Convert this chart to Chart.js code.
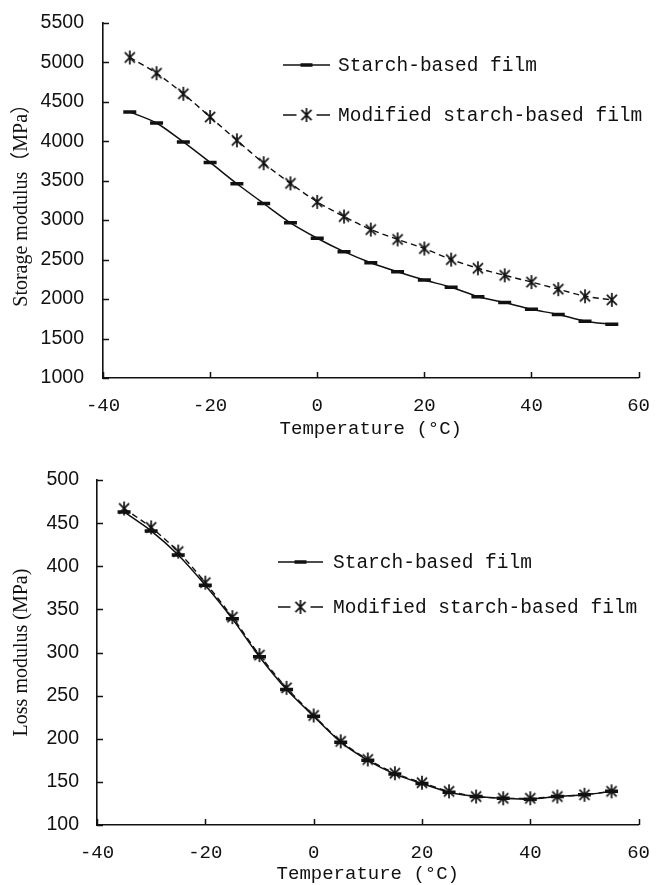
<!DOCTYPE html>
<html>
<head>
<meta charset="utf-8">
<script src="https://cdn.jsdelivr.net/npm/chart.js@4.4.0/dist/chart.umd.min.js"></script>
<style>
    html, body { margin: 0; padding: 0; background: #fff; }
    canvas { display: block; }
</style>
</head>
<body>
<canvas id="storage-chart" width="659" height="442"></canvas>
<canvas id="loss-chart" width="659" height="443"></canvas>
<script>
// Data (temperature sweep, 5 °C steps)
const temperatures = [-35, -30, -25, -20, -15, -10, -5, 0, 5, 10, 15, 20, 25, 30, 35, 40, 45, 50, 55];

const storageStarch   = [4370, 4230, 3990, 3730, 3460, 3210, 2965, 2770, 2600, 2460, 2345, 2240, 2150, 2030, 1955, 1870, 1805, 1720, 1680];
const storageModified = [5060, 4860, 4600, 4305, 4010, 3720, 3465, 3230, 3045, 2880, 2755, 2640, 2500, 2390, 2300, 2215, 2125, 2035, 1990];

const lossStarch   = [463, 441, 413, 378, 339, 295, 257, 226, 196, 175, 159, 148, 138, 133, 131, 130, 133, 135, 139];
const lossModified = [467, 445, 417, 381, 341, 297, 259, 227, 197, 176, 160, 149, 139, 133, 131, 131, 133, 135, 139];

const tempTicks    = [-40, -20, 0, 20, 40, 60];
const storageTicks = [1000, 1500, 2000, 2500, 3000, 3500, 4000, 4500, 5000, 5500];
const lossTicks    = [100, 150, 200, 250, 300, 350, 400, 450, 500];

const seriesNames = ['Starch-based film', 'Modified starch-based film'];

const INK = '#111';
const MONO = "'Liberation Mono', 'DejaVu Sans Mono', monospace";

// Asterisk marker (vertical stroke + two diagonals)
function makeAsterisk(size) {
    const c = document.createElement('canvas');
    c.width = size;
    c.height = size;
    const g = c.getContext('2d');
    const m = size / 2;
    const r = size / 2 - 1;
    const d = r * 0.72;
    g.strokeStyle = INK;
    g.lineWidth = 1.7;
    g.beginPath();
    g.moveTo(m, m - r); g.lineTo(m, m + r);
    g.moveTo(m - d, m - d); g.lineTo(m + d, m + d);
    g.moveTo(m + d, m - d); g.lineTo(m - d, m + d);
    g.stroke();
    return c;
}
const asterisk = makeAsterisk(16);

const toPoints = values => temperatures.map((t, i) => ({ x: t, y: values[i] }));

// Ticks drawn inward, like the original figure
const inwardTicks = {
    id: 'inwardTicks',
    afterDraw(chart) {
        const { ctx, scales: { x, y } } = chart;
        ctx.save();
        ctx.strokeStyle = INK;
        ctx.lineWidth = 1.5;
        ctx.beginPath();
        x.ticks.forEach(t => {
            const px = Math.round(x.getPixelForValue(t.value)) + 0.5;
            ctx.moveTo(px, y.bottom);
            ctx.lineTo(px, y.bottom - 6);
        });
        y.ticks.forEach(t => {
            const py = Math.round(y.getPixelForValue(t.value)) + 0.5;
            ctx.moveTo(x.left, py);
            ctx.lineTo(x.left + 6, py);
        });
        ctx.stroke();
        ctx.restore();
    }
};

// Legend placed inside the plot, as in the figure
const legendBox = {
    id: 'legendBox',
    afterDraw(chart, args, opts) {
        const { ctx } = chart;
        ctx.save();
        ctx.strokeStyle = INK;
        ctx.fillStyle = INK;
        ctx.font = `19.5px ${MONO}`;
        ctx.textBaseline = 'middle';
        chart.data.datasets.forEach((ds, i) => {
            const y = opts.top + i * opts.gap;
            const x0 = opts.left;
            const x1 = opts.left + opts.sample;
            const mid = (x0 + x1) / 2;
            ctx.lineWidth = 1.5;
            ctx.beginPath();
            if (i === 0) {
                ctx.moveTo(x0, y); ctx.lineTo(x1, y);
                ctx.stroke();
                ctx.lineWidth = 3.5;
                ctx.beginPath();
                ctx.moveTo(mid - 6, y); ctx.lineTo(mid + 6, y);
                ctx.stroke();
            } else {
                ctx.moveTo(x0, y); ctx.lineTo(mid - 10, y);
                ctx.moveTo(mid + 10, y); ctx.lineTo(x1, y);
                ctx.stroke();
                ctx.drawImage(asterisk, mid - 8, y - 8);
            }
            ctx.fillText(ds.label, opts.textX, y + 1);
        });
        ctx.restore();
    }
};

function buildChart(canvasId, cfg) {
    return new Chart(document.getElementById(canvasId), {
        type: 'line',
        data: {
            datasets: [{
                label: seriesNames[0],
                data: toPoints(cfg.starch),
                borderColor: INK,
                borderWidth: 1.5,
                tension: 0.25,
                pointStyle: 'line',
                pointRadius: 6.5,
                pointBorderWidth: 3.5,
                pointBorderColor: INK
            }, {
                label: seriesNames[1],
                data: toPoints(cfg.modified),
                borderColor: INK,
                borderWidth: 1.4,
                borderDash: [6, 4],
                tension: 0.25,
                pointStyle: asterisk,
                pointRadius: 8
            }]
        },
        options: {
            responsive: false,
            animation: false,
            layout: { padding: { top: cfg.top, right: 14, bottom: 0, left: 0 } },
            plugins: {
                legend: { display: false },
                tooltip: { enabled: false },
                legendBox: cfg.legend
            },
            scales: {
                x: {
                    type: 'linear',
                    min: -40,
                    max: 60,
                    afterBuildTicks: axis => { axis.ticks = tempTicks.map(v => ({ value: v })); },
                    afterFit: axis => { axis.height = cfg.xHeight; },
                    grid: { display: false },
                    border: { display: true, color: INK, width: 1.6 },
                    ticks: {
                        color: INK,
                        font: { family: MONO, size: 19 },
                        padding: 9,
                        maxRotation: 0,
                        callback: v => String(v)
                    },
                    title: {
                        display: true,
                        text: 'Temperature (°C)',
                        color: INK,
                        font: { family: MONO, size: 19 },
                        padding: { top: 0, bottom: cfg.titlePad }
                    }
                },
                y: {
                    min: cfg.yMin,
                    max: cfg.yMax,
                    afterBuildTicks: axis => { axis.ticks = cfg.yTicks.map(v => ({ value: v })); },
                    afterFit: axis => { axis.width = cfg.yWidth; },
                    grid: { display: false },
                    border: { display: true, color: INK, width: 1.6 },
                    ticks: {
                        color: INK,
                        font: { family: "'Liberation Sans', Arial, sans-serif", size: 19.5 },
                        padding: cfg.yTickPad,
                        callback: v => String(v)
                    },
                    title: {
                        display: true,
                        text: cfg.yTitle,
                        color: INK,
                        font: { family: "'Liberation Serif', 'Noto Sans CJK SC', serif", size: 20 },
                        padding: { top: 10, bottom: 0 }
                    }
                }
            }
        },
        plugins: [inwardTicks, legendBox]
    });
}

buildChart('storage-chart', {
    starch: storageStarch,
    modified: storageModified,
    yMin: 1000,
    yMax: 5500,
    yTicks: storageTicks,
    yTitle: 'Storage modulus（MPa）',
    top: 22,
    yWidth: 103,
    xHeight: 64,
    yTickPad: 11,
    titlePad: 2,
    legend: { left: 283, sample: 47, textX: 338, top: 65, gap: 50 }
});

buildChart('loss-chart', {
    starch: lossStarch,
    modified: lossModified,
    yMin: 100,
    yMax: 500,
    yTicks: lossTicks,
    yTitle: 'Loss modulus (MPa)',
    top: 38,
    yWidth: 97,
    xHeight: 60,
    yTickPad: 10,
    titlePad: 0,
    legend: { left: 278, sample: 45, textX: 333, top: 120, gap: 45 }
});
</script>
</body>
</html>
